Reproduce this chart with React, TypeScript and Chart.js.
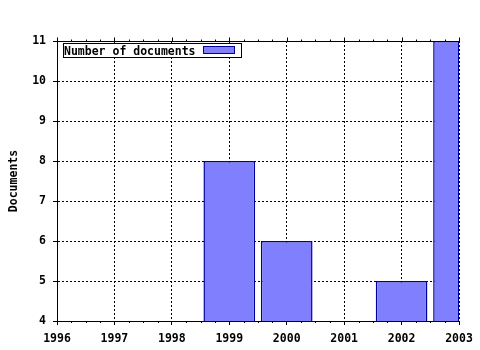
import React, { useEffect, useRef } from "react";
import { Chart, registerables } from "chart.js";

Chart.register(...registerables);

const years = [1999, 2000, 2002, 2003];
const documents = [8, 6, 5, 11];
const xMin = 1996;
const xMax = 2003;
const yMin = 4;
const yMax = 11;
const seriesLabel = "Number of documents";
const yTitle = "Documents";

const FONT = "'DejaVu Sans Mono', monospace";
const FILL = "#8080ff";
const EDGE = "#0000a0";

export default function App() {
  const ref = useRef<HTMLCanvasElement>(null);

  useEffect(() => {
    if (!ref.current) return;

    const decor = {
      id: "decor",
      afterDraw(chart: any) {
        const { ctx, chartArea, scales } = chart;
        const xs = scales.x;
        const top = Math.round(chartArea.top) + 0.5;
        const bottom = Math.round(chartArea.bottom);
        ctx.save();
        ctx.lineWidth = 1;
        // right edge
        ctx.strokeStyle = EDGE;
        ctx.beginPath();
        const rx = Math.round(chartArea.right) - 0.5;
        ctx.moveTo(rx, chartArea.top);
        ctx.lineTo(rx, chartArea.bottom);
        ctx.stroke();
        // top axis line
        ctx.strokeStyle = "#000";
        ctx.beginPath();
        ctx.moveTo(chartArea.left, top);
        ctx.lineTo(chartArea.right, top);
        ctx.stroke();
        // ticks
        ctx.beginPath();
        for (let v = xMin; v <= xMax; v++) {
          const px = Math.round(xs.getPixelForValue(v)) + 0.5;
          ctx.moveTo(px, top);
          ctx.lineTo(px, top - 4);
          if (v === xMax) break;
          for (let k = 1; k < 4; k++) {
            const mx = Math.round(xs.getPixelForValue(v + k / 4)) + 0.5;
            ctx.moveTo(mx, bottom);
            ctx.lineTo(mx, bottom + 2);
            ctx.moveTo(mx, top);
            ctx.lineTo(mx, top - 2);
          }
        }
        ctx.stroke();
        // legend box
        const lx = Math.round(chartArea.left) + 6;
        const ly = Math.round(chartArea.top) + 2;
        ctx.font = "bold 11.5px " + FONT;
        const tw = ctx.measureText(seriesLabel).width;
        const boxW = Math.round(tw + 46);
        const boxH = 14;
        ctx.fillStyle = "#fff";
        ctx.fillRect(lx, ly, boxW, boxH);
        ctx.strokeStyle = "#000";
        ctx.strokeRect(lx + 0.5, ly + 0.5, boxW, boxH);
        ctx.fillStyle = "#000";
        ctx.textBaseline = "alphabetic";
        ctx.textAlign = "left";
        ctx.fillText(seriesLabel, lx + 1, ly + 12);
        const sx = Math.round(lx + boxW - 38);
        ctx.fillStyle = FILL;
        ctx.fillRect(sx, ly + 3, 31, 7);
        ctx.strokeStyle = EDGE;
        ctx.strokeRect(sx + 0.5, ly + 3.5, 31, 7);
        ctx.restore();
      },
    };

    const tickFont = { family: FONT, size: 11.5, weight: "bold" as const };

    const chart = new Chart(ref.current, {
      type: "bar",
      data: {
        datasets: [
          {
            label: seriesLabel,
            data: years.map((x, i) => ({ x, y: documents[i] })),
            backgroundColor: FILL,
            borderColor: EDGE,
            borderWidth: 1.5,
            categoryPercentage: 0.9,
            barPercentage: 1,
          },
        ],
      },
      options: {
        responsive: false,
        animation: false,
        layout: { padding: { left: 7, right: 21, top: 41, bottom: 0 } },
        plugins: {
          legend: { display: false },
          tooltip: { enabled: false },
        },
        scales: {
          x: {
            type: "linear",
            position: "bottom",
            min: xMin,
            max: xMax,
            offset: false,
            ticks: {
              stepSize: 1,
              autoSkip: false,
              maxRotation: 0,
              color: "#000",
              font: tickFont,
              padding: 7,
              callback: (v: any) => String(v),
            },
            grid: {
              color: "#000",
              lineWidth: 1,
              tickLength: 4,
              tickColor: "#000",
              offset: false,
            },
            border: { display: true, color: "#000", width: 1, dash: [2, 2] },
            afterFit: (s: any) => {
              s.height = 29;
            },
          },
          y: {
            type: "linear",
            position: "left",
            min: yMin,
            max: yMax,
            ticks: {
              stepSize: 1,
              color: "#000",
              font: tickFont,
              padding: 7,
            },
            grid: {
              color: "#000",
              lineWidth: 1,
              tickLength: 4,
              tickColor: "#000",
            },
            border: { display: true, color: "#000", width: 1, dash: [2, 2] },
            title: {
              display: true,
              text: yTitle,
              color: "#000",
              font: { family: FONT, size: 11.5, weight: "bold" },
              padding: 0,
            },
            afterFit: (s: any) => {
              s.width = 50;
            },
          },
        },
      } as any,
      plugins: [decor],
    });

    return () => chart.destroy();
  }, []);

  return (
    <div style={{ position: "absolute", left: 0, top: 0, width: 480, height: 350 }}>
      <canvas ref={ref} width={480} height={350} style={{ display: "block" }} />
    </div>
  );
}
